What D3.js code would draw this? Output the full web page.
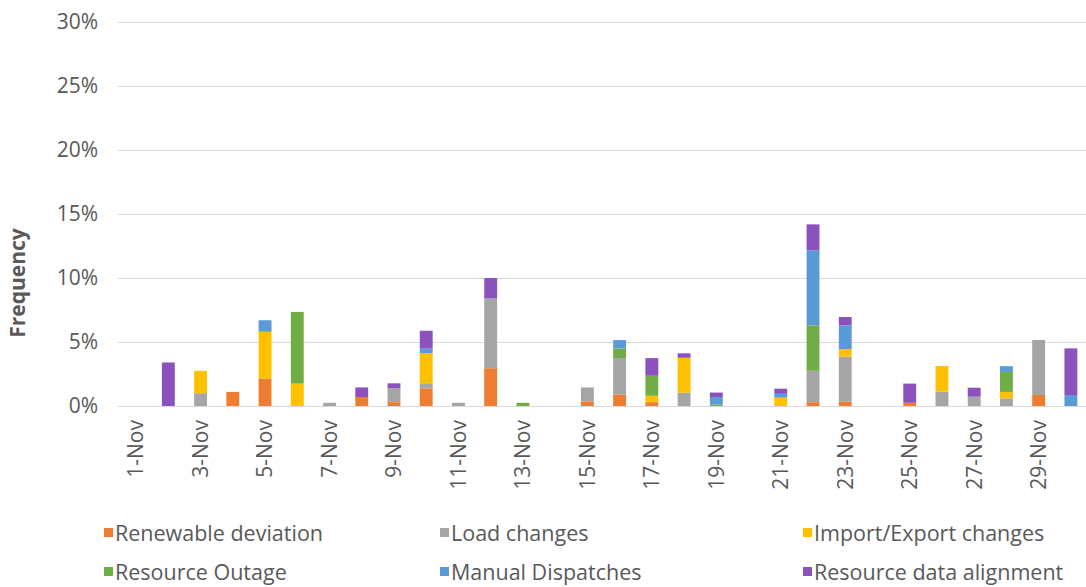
<!DOCTYPE html>
<html>
<head>
<meta charset="utf-8">
<script src="https://cdn.jsdelivr.net/npm/d3@7"></script>
<style>
  html, body { margin: 0; padding: 0; background: #fff; }
  svg { display: block; font-family: "Open Sans", sans-serif; }
</style>
</head>
<body>
<div id="chart"></div>
<script>
// Days of November (x categories)
const days = d3.range(1, 31).map(d => d + '-Nov');
// Only every second day gets a label
const tickDays = days.filter((d, i) => i % 2 === 0);
const yTicks = [0, 5, 10, 15, 20, 25, 30];

// Series names, in stacking order (bottom to top)
const seriesNames = ['Renewable deviation', 'Load changes', 'Import/Export changes',
                     'Resource Outage', 'Manual Dispatches', 'Resource data alignment'];
const seriesColors = ['#ED7D31', '#A5A5A5', '#FFC000', '#70AD47', '#5B9BD5', '#8B52BE'];

// Frequency in %, one value per day
const renewable = [0, 0, 0, 1.1, 2.15, 0, 0, 0.7, 0.3, 1.38, 0, 2.95, 0, 0, 0.35,
                   0.9, 0.3, 0, 0, 0, 0, 0.3, 0.35, 0, 0.25, 0, 0, 0, 0.86, 0];
const loadChanges = [0, 0, 1.0, 0, 0, 0, 0.25, 0, 1.1, 0.4, 0.25, 5.45, 0, 0, 1.1,
                     2.85, 0, 1.04, 0, 0, 0, 2.45, 3.5, 0, 0, 1.12, 0.73, 0.6, 4.3, 0];
const importExport = [0, 0, 1.75, 0, 3.65, 1.75, 0, 0, 0, 2.35, 0, 0, 0, 0, 0,
                      0, 0.5, 2.73, 0, 0, 0.65, 0, 0.6, 0, 0, 2.0, 0, 0.5, 0, 0];
const outage = [0, 0, 0, 0, 0, 5.6, 0, 0, 0, 0, 0, 0, 0.25, 0, 0,
                0.75, 1.56, 0, 0.1, 0, 0, 3.55, 0, 0, 0, 0, 0, 1.56, 0, 0];
const manual = [0, 0, 0, 0, 0.9, 0, 0, 0, 0, 0.35, 0, 0, 0, 0, 0,
                0.65, 0, 0, 0.6, 0, 0.3, 5.86, 1.85, 0, 0, 0, 0, 0.45, 0, 0.86];
const alignment = [0, 3.4, 0, 0, 0, 0, 0, 0.75, 0.37, 1.4, 0, 1.6, 0, 0, 0,
                   0, 1.38, 0.35, 0.35, 0, 0.4, 2.03, 0.65, 0, 1.5, 0, 0.7, 0, 0, 3.64];

const seriesValues = [renewable, loadChanges, importExport, outage, manual, alignment];

const W = 1086, H = 587;
const plot = { left: 120, right: 1087, top: 22, bottom: 406 };

const svg = d3.select('#chart').append('svg')
    .attr('width', W)
    .attr('height', H);

svg.append('rect').attr('width', W).attr('height', H).attr('fill', '#fff');

const x = d3.scaleBand()
    .domain(days)
    .range([plot.left, plot.right])
    .paddingInner(0.6)
    .paddingOuter(0.3);

const y = d3.scaleLinear()
    .domain([0, 30])
    .range([plot.bottom, plot.top]);

// gridlines
svg.append('g')
    .selectAll('line')
    .data(yTicks)
    .enter()
    .append('line')
    .attr('x1', plot.left - 2)
    .attr('x2', W)
    .attr('y1', d => Math.round(y(d)) + 0.5)
    .attr('y2', d => Math.round(y(d)) + 0.5)
    .attr('stroke', '#d9d9d9')
    .attr('stroke-width', 1);

// y axis labels
const yAxis = svg.append('g')
    .attr('transform', `translate(${plot.left - 20},0)`)
    .call(d3.axisLeft(y).tickValues(yTicks).tickSize(0).tickFormat(d => d + '%'));
yAxis.select('.domain').remove();
yAxis.selectAll('text')
    .attr('x', -2)
    .style('font-family', '"Open Sans", sans-serif')
    .style('font-size', '21px')
    .attr('fill', '#595959');

svg.append('text')
    .attr('transform', `translate(25, 283) rotate(-90)`)
    .attr('text-anchor', 'middle')
    .style('font-size', '21px')
    .style('font-weight', 'bold')
    .attr('fill', '#595959')
    .text('Frequency');

// stacked bars
const table = days.map((d, i) => {
    const row = { day: d };
    seriesNames.forEach((s, k) => { row[s] = seriesValues[k][i]; });
    return row;
});
const stacked = d3.stack().keys(seriesNames)(table);

svg.append('g')
    .selectAll('g')
    .data(stacked)
    .enter()
    .append('g')
    .attr('fill', (d, i) => seriesColors[i])
    .selectAll('rect')
    .data(d => d.filter(p => p[1] - p[0] > 0))
    .enter()
    .append('rect')
    .attr('x', d => x(d.data.day))
    .attr('width', x.bandwidth())
    .attr('y', d => y(d[1]))
    .attr('height', d => y(d[0]) - y(d[1]));

// x axis labels (rotated)
const xAxis = svg.append('g')
    .attr('transform', `translate(0,${plot.bottom})`)
    .call(d3.axisBottom(x).tickValues(tickDays).tickSize(0));
xAxis.select('.domain').remove();
xAxis.selectAll('text')
    .attr('transform', 'rotate(-90)')
    .attr('x', -14)
    .attr('y', 0)
    .attr('dy', '0.35em')
    .style('text-anchor', 'end')
    .style('font-family', '"Open Sans", sans-serif')
    .style('font-size', '21px')
    .attr('fill', '#595959');

// legend
const legendCols = [104, 440, 803];
const legendRows = [533, 572];
const legend = svg.append('g')
    .selectAll('g')
    .data(seriesNames)
    .enter()
    .append('g')
    .attr('transform', (d, i) => `translate(${legendCols[i % 3]},${legendRows[Math.floor(i / 3)]})`);

legend.append('rect')
    .attr('x', 0)
    .attr('y', -5)
    .attr('width', 9)
    .attr('height', 9)
    .attr('fill', (d, i) => seriesColors[i]);

legend.append('text')
    .attr('x', 11)
    .attr('y', 0)
    .attr('dy', '0.35em')
    .style('font-size', '21.5px')
    .attr('fill', '#595959')
    .text(d => d);
</script>
</body>
</html>
